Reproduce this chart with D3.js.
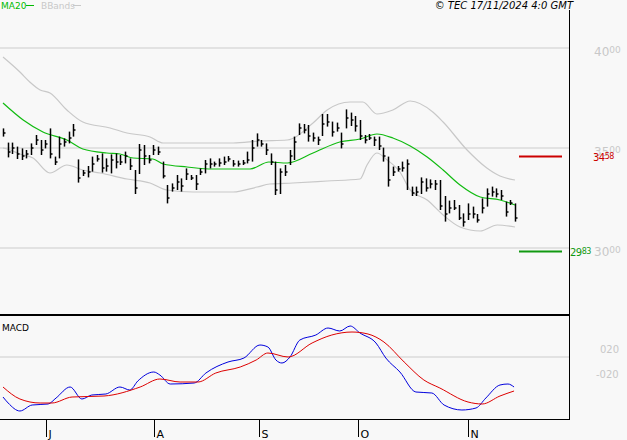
<!DOCTYPE html>
<html><head><meta charset="utf-8">
<script src="https://cdn.jsdelivr.net/npm/d3@7/dist/d3.min.js"></script>
<style>body{margin:0;background:#f8f8f8}svg{display:block;font-family:"DejaVu Sans",sans-serif}</style>
</head><body><svg id="c" width="627" height="440"></svg>
<script>
const highs=[3598,3527,3527,3507,3498,3490,3523,3565,3540,3540,3598,3457,3557,3548,3582,3620,3443,3390,3410,3457,3465,3473,3448,3468,3473,3465,3482,3448,3390,3520,3515,3465,3515,3507,3432,3315,3323,3365,3348,3398,3365,3365,3398,3440,3448,3432,3448,3457,3460,3440,3437,3440,3482,3540,3573,3540,3523,3473,3432,3398,3415,3490,3557,3623,3620,3615,3577,3557,3670,3670,3632,3627,3577,3693,3677,3660,3640,3565,3570,3557,3557,3502,3457,3407,3410,3432,3443,3307,3307,3353,3348,3343,3340,3340,3260,3237,3240,3215,3173,3223,3207,3170,3248,3298,3307,3298,3290,3232,3240,3223];
const lows=[3557,3453,3470,3445,3440,3448,3465,3515,3465,3498,3448,3415,3448,3507,3523,3557,3327,3360,3353,3382,3432,3377,3382,3373,3398,3415,3423,3390,3270,3370,3415,3423,3465,3465,3348,3223,3282,3290,3282,3340,3340,3290,3365,3373,3398,3407,3407,3415,3432,3407,3407,3415,3423,3432,3507,3507,3465,3415,3265,3270,3360,3415,3440,3565,3573,3532,3532,3515,3560,3607,3557,3582,3498,3598,3610,3582,3540,3523,3540,3510,3490,3432,3307,3360,3382,3382,3290,3260,3260,3270,3282,3298,3290,3190,3132,3173,3190,3140,3107,3140,3148,3127,3173,3207,3257,3253,3240,3157,3215,3132];
const closes=[3575,3480,3500,3470,3460,3470,3500,3540,3490,3520,3470,3430,3520,3530,3550,3590,3350,3375,3380,3420,3445,3400,3410,3440,3430,3430,3460,3410,3300,3490,3460,3440,3490,3480,3360,3250,3300,3330,3310,3370,3350,3320,3380,3420,3420,3420,3425,3430,3445,3420,3420,3425,3440,3500,3540,3520,3490,3430,3290,3380,3380,3460,3530,3600,3590,3560,3550,3540,3620,3630,3580,3600,3520,3650,3640,3610,3560,3540,3550,3540,3510,3460,3340,3380,3395,3400,3420,3275,3280,3330,3300,3320,3320,3210,3170,3200,3200,3150,3130,3170,3170,3140,3200,3270,3280,3270,3260,3180,3225,3150];
const ma20=[[0,3725],[4.3,3640],[8.5,3580],[13.6,3540],[17,3495],[22.1,3475],[24.9,3470],[27.7,3450],[31.9,3445],[34.1,3420],[39.2,3405],[44.7,3395],[52.6,3395],[56.6,3430],[60.5,3425],[66,3475],[71.7,3530],[76,3545],[79.6,3570],[83,3550],[86.7,3510],[90.3,3455],[93.7,3390],[97.3,3315],[101.6,3255],[105.8,3240],[109,3215]];
const upperBand=[[0,3955],[3.6,3880],[5.7,3830],[7.9,3790],[10,3775],[13.6,3690],[17,3630],[22.8,3600],[26.4,3575],[31.3,3555],[34.1,3525],[38.3,3525],[49,3525],[54.7,3535],[60.5,3540],[66,3625],[69,3690],[73.9,3730],[76.6,3730],[79.6,3670],[83,3690],[86.7,3735],[91.5,3680],[93.7,3630],[98.8,3490],[103,3400],[105.8,3360],[109,3340]];
const lowerBand=[[0,3500],[1.5,3490],[3.6,3470],[6.4,3450],[10,3375],[13.6,3415],[17,3390],[20.7,3375],[26.4,3345],[31.3,3325],[34.9,3290],[40.5,3280],[49,3280],[54.1,3305],[56.8,3320],[61.7,3325],[69,3335],[76,3345],[77.5,3415],[79.6,3475],[81.8,3440],[84.5,3380],[86.7,3290],[90.3,3240],[93.7,3165],[97.3,3105],[101.6,3085],[105.2,3115],[109,3105]];
const macd=[[0,-40],[1.1,-46],[3.6,-54],[6.2,-48],[9.6,-47],[11.3,-41],[14.3,-30],[16.8,-42],[18.9,-38],[21.9,-37],[24.9,-30],[27,-33],[28.7,-24],[32.1,-15],[33.4,-18],[35.6,-27],[40.7,-26],[43.2,-16],[47.9,-5],[51.3,-1],[54.7,12],[56.4,10],[58.1,-3],[59.4,-6],[61.1,0],[63.2,17],[66.6,22],[69.2,29],[71.7,26],[73.9,31],[76,24],[79.4,14],[81.5,-1],[84.5,-15],[87.9,-35],[91.3,-36],[93.9,-48],[97.7,-53],[100.7,-51],[102.8,-41],[105.8,-28],[107.5,-27],[108.8,-30]];
const signal=[[0,-30],[3.6,-42],[7.9,-46],[10.4,-46],[14.7,-40],[21.5,-39],[29.2,-30],[33.4,-22],[37.7,-25],[41.5,-25],[45.3,-16],[50.5,-10],[53.9,-3],[56.4,4],[60.7,0],[65.8,14],[70,22],[74.3,25],[77.7,23],[81.1,15],[85.4,-5],[89.6,-23],[93,-31],[99,-45],[102,-47],[105.8,-39],[108.8,-34]];
const monthLabels=["J","A","S","O","N"];
const monthIdx=[9.2,32.1,54.5,75.6,99];
const priceTicks=[4000,3500,3000];
const resistance=3458, support=2983;
const macdTickLabels=["020","-020"];

const svg=d3.select("#c");
const x=d3.scaleLinear().domain([0,109]).range([3,515]);
const y=d3.scaleLinear().domain([3000,4000]).range([248,48]);
const ym=d3.scaleLinear().domain([-50,0]).range([407,357]);
const R=569;
priceTicks.forEach(t=>{svg.append("line").attr("x1",0).attr("x2",R).attr("y1",y(t)).attr("y2",y(t)).attr("stroke","#cccccc");});
svg.append("line").attr("x1",0).attr("x2",R).attr("y1",ym(0)).attr("y2",ym(0)).attr("stroke","#cccccc");
priceTicks.forEach(t=>{const s=String(t);const tx=svg.append("text").attr("x",594).attr("y",y(t)+8).attr("fill","#c8c8c8").attr("font-size",12);
 tx.append("tspan").text(s.slice(0,2));tx.append("tspan").attr("font-size",9).attr("dy",-3).text(s.slice(2));});
const ln=d3.line().x(d=>x(d[0])).y(d=>y(d[1])).curve(d3.curveMonotoneX);
svg.append("path").attr("d",ln(upperBand)).attr("fill","none").attr("stroke","#c8c8c8").attr("stroke-width",1.2);
svg.append("path").attr("d",ln(lowerBand)).attr("fill","none").attr("stroke","#c8c8c8").attr("stroke-width",1.2);
svg.append("path").attr("d",ln(ma20)).attr("fill","none").attr("stroke","#11bb11").attr("stroke-width",1.2);
const g=svg.append("g").attr("stroke","#000").attr("stroke-width",1.5);
highs.forEach((h,i)=>{const xx=Math.round(x(i))+0.5;
 g.append("line").attr("x1",xx).attr("x2",xx).attr("y1",y(h)).attr("y2",y(lows[i]));
 g.append("line").attr("x1",xx).attr("x2",xx+2).attr("y1",y(closes[i])).attr("y2",y(closes[i]));});
svg.append("line").attr("x1",519).attr("x2",562).attr("y1",y(resistance)).attr("y2",y(resistance)).attr("stroke","#cc0000").attr("stroke-width",2);
svg.append("line").attr("x1",519).attr("x2",562).attr("y1",y(support)).attr("y2",y(support)).attr("stroke","#119911").attr("stroke-width",2);
function lab(v,xx,col){const s=String(v);const t=svg.append("text").attr("x",xx).attr("y",y(v)+5).attr("fill",col).attr("font-size",10).attr("letter-spacing",-0.5);
 t.append("tspan").text(s.slice(0,2));t.append("tspan").attr("font-size",8).attr("dy",-2).text(s.slice(2));}
lab(resistance,593,"#cc0000");lab(support,570,"#119911");
svg.append("line").attr("x1",0).attr("x2",R).attr("y1",315).attr("y2",315).attr("stroke","#000").attr("stroke-width",2);
svg.append("line").attr("x1",0).attr("x2",R).attr("y1",419.5).attr("y2",419.5).attr("stroke","#000");
svg.append("line").attr("x1",R+0.5).attr("x2",R+0.5).attr("y1",10).attr("y2",420).attr("stroke","#000");
const lm=d3.line().x(d=>x(d[0])).y(d=>ym(d[1])).curve(d3.curveMonotoneX);
svg.append("path").attr("d",lm(macd)).attr("fill","none").attr("stroke","#0000dd").attr("stroke-width",1);
svg.append("path").attr("d",lm(signal)).attr("fill","none").attr("stroke","#dd0000").attr("stroke-width",1);
svg.append("text").attr("x",2).attr("y",331).attr("font-size",9).text("MACD");
svg.append("text").attr("x",600).attr("y",353).attr("fill","#c8c8c8").attr("font-size",10).text(macdTickLabels[0]);
svg.append("text").attr("x",596).attr("y",378).attr("fill","#c8c8c8").attr("font-size",10).text(macdTickLabels[1]);
monthIdx.forEach((m,i)=>{const xx=Math.round(x(m))+0.5;
 svg.append("line").attr("x1",xx).attr("x2",xx).attr("y1",420).attr("y2",437).attr("stroke","#000");
 svg.append("text").attr("x",xx+2).attr("y",438).attr("font-size",11).text(monthLabels[i]);});
svg.append("text").attr("x",1).attr("y",9).attr("fill","#00bb00").attr("font-size",9).text("MA20");
svg.append("line").attr("x1",26).attr("x2",34).attr("y1",5.5).attr("y2",5.5).attr("stroke","#00bb00");
svg.append("text").attr("x",41).attr("y",9).attr("fill","#c8c8c8").attr("font-size",9).text("BBands");
svg.append("line").attr("x1",73).attr("x2",81).attr("y1",5.5).attr("y2",5.5).attr("stroke","#c8c8c8");
svg.append("text").attr("x",573).attr("y",9).attr("text-anchor","end").attr("font-size",10).attr("font-style","italic").text("© TEC 17/11/2024 4:0 GMT");
</script></body></html>
